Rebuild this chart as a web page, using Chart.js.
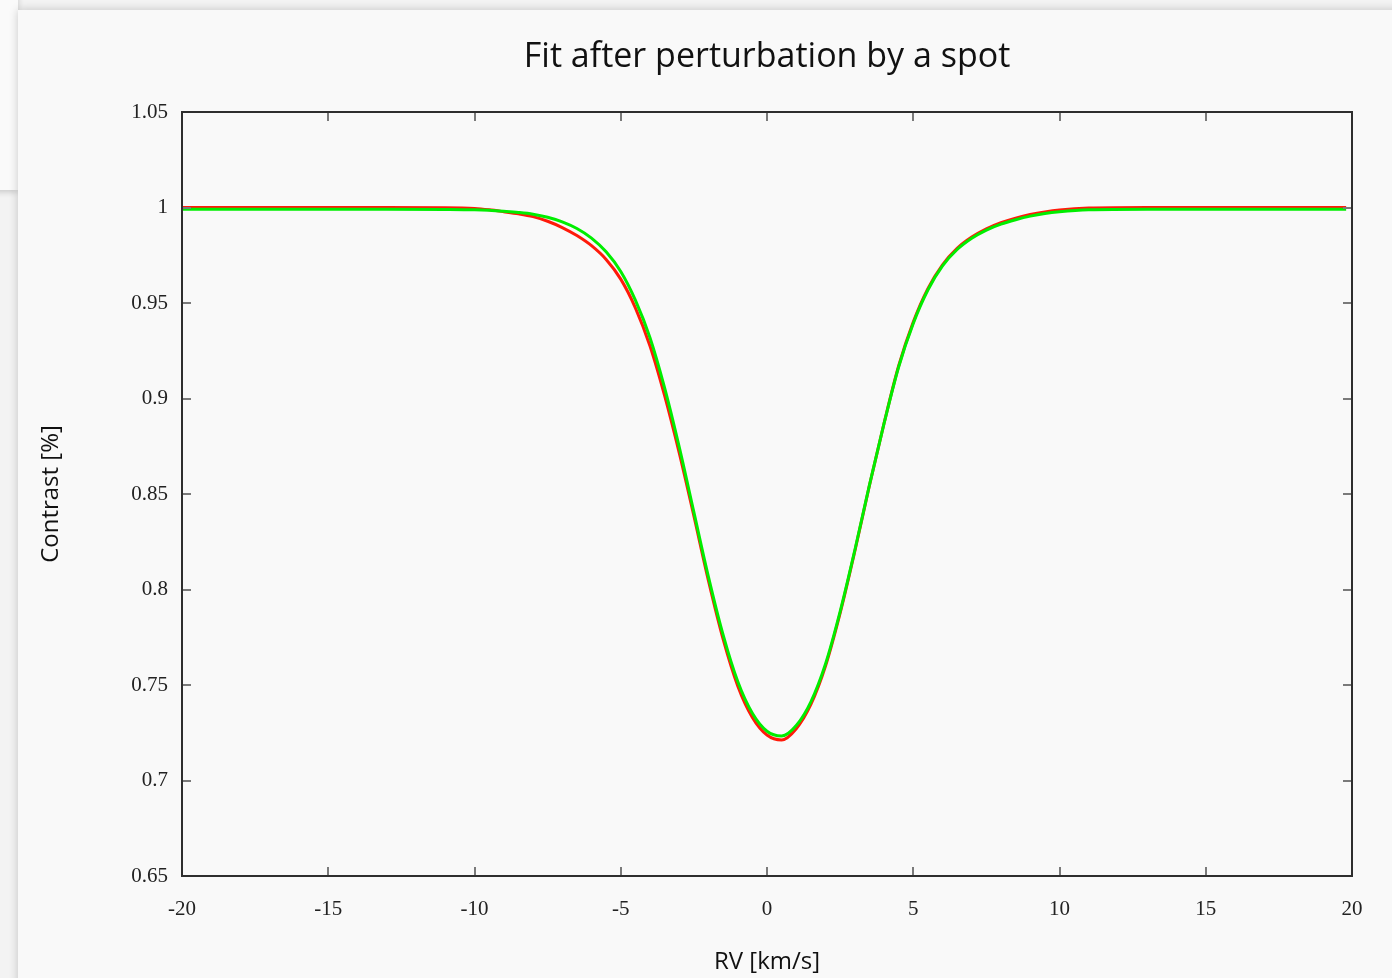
<!DOCTYPE html>
<html>
<head>
<meta charset="utf-8">
<title>Fit after perturbation by a spot</title>
<script src="https://cdn.jsdelivr.net/npm/chart.js@4.4.1/dist/chart.umd.min.js"></script>
<style>
  html, body { margin: 0; padding: 0; }
  body { width: 1392px; height: 978px; overflow: hidden; background: #f3f3f3; position: relative; }
  .side { position: absolute; left: -20px; top: -20px; width: 38px; height: 210px; background: #fafafa;
          box-shadow: 0 2px 6px rgba(0,0,0,0.18); }
  .card { position: absolute; left: 18px; top: 10px; width: 1420px; height: 1000px; background: #f9f9f9;
          box-shadow: 0 0 9px rgba(0,0,0,0.2); }
  #wrap { position: absolute; left: 0; top: 0; width: 1392px; height: 978px; }
</style>
</head>
<body>
<div class="side"></div>
<div class="card"></div>
<div id="wrap"><canvas id="chart" width="1392" height="978"></canvas></div>
<script>
// Radial velocity grid (km/s)
const rv = [-20, -16, -13, -11,
            -10, -9.5, -9, -8.5, -8, -7.5, -7, -6.5, -6, -5.5, -5, -4.5, -4, -3.5, -3, -2.5, -2, -1.5, -1, -0.5,
            0, 0.5, 1, 1.5, 2, 2.5, 3, 3.5, 4, 4.5, 5, 5.5, 6, 6.5, 7, 7.5, 8, 8.5, 9, 9.5, 10,
            11, 13, 16, 19.8];

// Perturbed line profile (red)
const perturbed = [1.0, 1.0, 1.0, 0.9999,
                   0.9995, 0.9988, 0.9978, 0.9967, 0.9952, 0.9928, 0.9895, 0.9853, 0.9800, 0.9728, 0.9625,
                   0.9475, 0.9275, 0.9015, 0.8715, 0.8385, 0.8045, 0.7740, 0.7495, 0.7330,
                   0.7238, 0.7212, 0.7271, 0.7398, 0.7599, 0.7876, 0.8199, 0.8543, 0.8869, 0.9170, 0.9400,
                   0.9575, 0.9700, 0.9786, 0.9845, 0.9888, 0.9920, 0.9944, 0.9963, 0.9977, 0.9987,
                   0.9997, 1.0, 1.0, 1.0];

// Fitted profile (green)
const fitted = [0.9991, 0.9991, 0.9991, 0.9990,
                0.9988, 0.9985, 0.9980, 0.9974, 0.9965, 0.9949, 0.9925, 0.9890, 0.9840, 0.9768, 0.9665,
                0.9515, 0.9318, 0.9055, 0.8745, 0.8405, 0.8065, 0.7762, 0.7518, 0.7352,
                0.7258, 0.7233, 0.7288, 0.7412, 0.7610, 0.7884, 0.8204, 0.8545, 0.8868, 0.9165, 0.9393,
                0.9568, 0.9694, 0.9780, 0.9839, 0.9882, 0.9913, 0.9936, 0.9955, 0.9969, 0.9978,
                0.9988, 0.9991, 0.9991, 0.9991];

const xTicks = [-20, -15, -10, -5, 0, 5, 10, 15, 20];
const yTicks = [0.65, 0.7, 0.75, 0.8, 0.85, 0.9, 0.95, 1, 1.05];

const chartTitle = 'Fit after perturbation by a spot';

const toPoints = (xs, ys) => xs.map((x, i) => ({ x: x, y: ys[i] }));

const tickFont = { family: '"Liberation Serif", "Times New Roman", serif', size: 21 };
const labelFont = { family: '"Comic Sans MS", "Open Sans", sans-serif', size: 24 };

// Title centred over the plot area
const plotTitle = {
  id: 'plotTitle',
  afterDraw(chart) {
    const { ctx, chartArea: a } = chart;
    ctx.save();
    ctx.fillStyle = '#111';
    ctx.font = '34px "Comic Sans MS", "Open Sans", sans-serif';
    ctx.textAlign = 'center';
    ctx.textBaseline = 'middle';
    ctx.fillText(chartTitle, (a.left + a.right) / 2, 57);
    ctx.restore();
  }
};

// Frame around the plot area plus short inward ticks on all four sides
const frameTicks = {
  id: 'frameTicks',
  afterDatasetsDraw(chart) {
    const { ctx, chartArea: a, scales } = chart;
    const len = 9;
    ctx.save();
    ctx.strokeStyle = '#7a7a7a';
    ctx.lineWidth = 2;
    ctx.beginPath();
    scales.x.ticks.forEach(t => {
      const px = Math.round(scales.x.getPixelForValue(t.value));
      if (px <= a.left + 1 || px >= a.right - 1) return;
      ctx.moveTo(px, a.bottom); ctx.lineTo(px, a.bottom - len);
      ctx.moveTo(px, a.top); ctx.lineTo(px, a.top + len);
    });
    scales.y.ticks.forEach(t => {
      const py = Math.round(scales.y.getPixelForValue(t.value));
      if (py <= a.top + 1 || py >= a.bottom - 1) return;
      ctx.moveTo(a.left, py); ctx.lineTo(a.left + len, py);
      ctx.moveTo(a.right, py); ctx.lineTo(a.right - len, py);
    });
    ctx.stroke();
    ctx.strokeStyle = '#2e2e2e';
    ctx.lineWidth = 2;
    ctx.strokeRect(a.left, a.top, a.right - a.left, a.bottom - a.top);
    ctx.restore();
  }
};

new Chart(document.getElementById('chart'), {
  type: 'line',
  data: {
    datasets: [
      {
        label: 'fit',
        data: toPoints(rv, fitted),
        borderColor: '#00ee00',
        borderWidth: 3,
        pointRadius: 0,
        cubicInterpolationMode: 'monotone',
        fill: false,
        order: 0
      },
      {
        label: 'perturbed',
        data: toPoints(rv, perturbed),
        borderColor: '#ff1a0a',
        borderWidth: 3,
        pointRadius: 0,
        cubicInterpolationMode: 'monotone',
        fill: false,
        order: 1
      }
    ]
  },
  options: {
    responsive: false,
    animation: false,
    devicePixelRatio: 1,
    layout: { padding: { left: 0, right: 40, top: 112, bottom: 0 } },
    plugins: {
      legend: { display: false },
      tooltip: { enabled: false },
      title: { display: false }
    },
    scales: {
      x: {
        type: 'linear',
        min: -20,
        max: 20,
        afterBuildTicks: s => { s.ticks = xTicks.map(v => ({ value: v })); },
        afterFit: s => { s.height = 102; },
        grid: { display: false, drawTicks: false },
        border: { display: false },
        ticks: { color: '#222', font: tickFont, padding: 21, maxRotation: 0, autoSkip: false,
                 callback: v => String(v) },
        title: { display: true, text: 'RV [km/s]', color: '#111', font: labelFont,
                 padding: { top: 0, bottom: 1 } }
      },
      y: {
        type: 'linear',
        min: 0.65,
        max: 1.05,
        afterBuildTicks: s => { s.ticks = yTicks.map(v => ({ value: v })); },
        afterFit: s => { s.width = 182; },
        grid: { display: false, drawTicks: false },
        border: { display: false },
        ticks: { color: '#222', font: tickFont, padding: 14, autoSkip: false,
                 callback: v => String(+Number(v).toFixed(2)) },
        title: { display: true, text: 'Contrast [%]', color: '#111', font: labelFont,
                 padding: { top: 37, bottom: 0 } }
      }
    }
  },
  plugins: [frameTicks, plotTitle]
});
</script>
</body>
</html>
